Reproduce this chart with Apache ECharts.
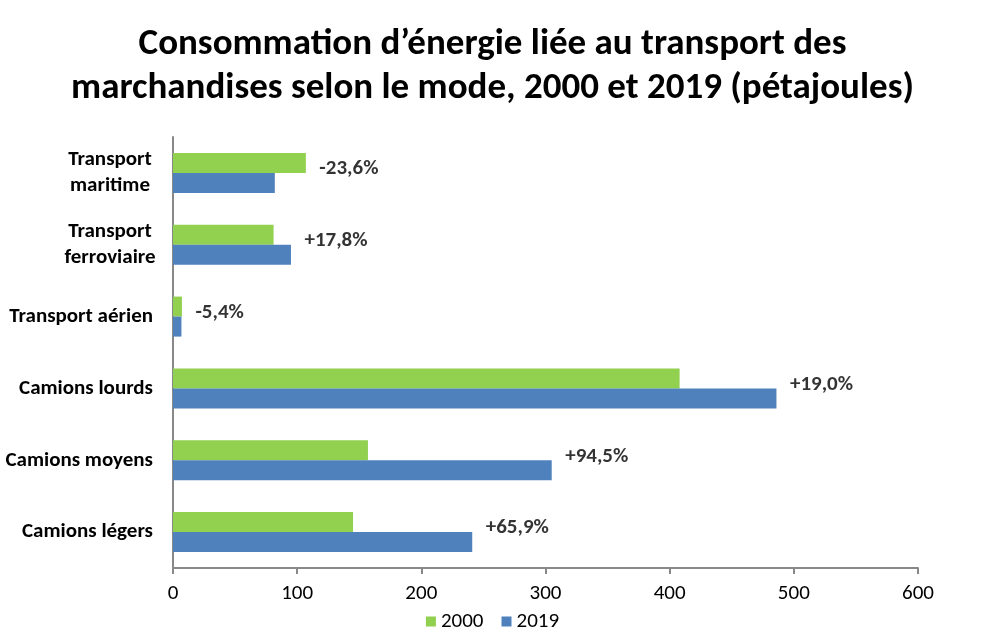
<!DOCTYPE html>
<html>
<head>
<meta charset="utf-8">
<script src="https://cdn.jsdelivr.net/npm/echarts@6/dist/echarts.min.js"></script>
<style>html,body{margin:0;padding:0;background:#fff}#c{width:985px;height:640px}</style>
</head>
<body>
<div id="c"></div>
<script>
const categories = ['Camions légers', 'Camions moyens', 'Camions lourds', 'Transport aérien', 'Transport\nferroviaire', 'Transport\nmaritime'];
const values2000 = [145, 157, 408, 7.2, 81, 107];
const values2019 = [241, 305, 486, 6.8, 95, 82];
const changeLabels = ['+65,9%', '+94,5%', '+19,0%', '-5,4%', '+17,8%', '-23,6%'];
const xTicks = [0, 100, 200, 300, 400, 500, 600];

const FONT = 'Carlito, "Open Sans", sans-serif';
const chart = echarts.init(document.getElementById('c'));
const labelPos = values2000.map((v, i) => Math.max(v, values2019[i]));

chart.setOption({
  animation: false,
  title: {
    text: 'Consommation d\u2019énergie liée au transport des\nmarchandises selon le mode, 2000 et 2019 (pétajoules)',
    left: 'center',
    top: 18,
    textStyle: { fontFamily: FONT, fontWeight: 'bold', fontSize: 37, lineHeight: 44, color: '#000' }
  },
  legend: {
    data: ['2000', '2019'],
    bottom: 3,
    left: 'center',
    itemWidth: 10,
    itemHeight: 10,
    itemGap: 18,
    icon: 'rect',
    textStyle: { fontFamily: FONT, fontSize: 21, color: '#000' }
  },
  grid: { left: 173, right: 67, top: 137, bottom: 72, containLabel: false },
  xAxis: {
    type: 'value',
    min: xTicks[0],
    max: xTicks[xTicks.length - 1],
    interval: 100,
    splitLine: { show: false },
    axisLine: { show: true, lineStyle: { color: '#888', width: 2 } },
    axisTick: { show: true, length: 6, lineStyle: { color: '#888', width: 2 } },
    axisLabel: { fontFamily: FONT, fontSize: 21, color: '#000', margin: 15 }
  },
  yAxis: {
    type: 'category',
    data: categories,
    axisLine: { show: true, lineStyle: { color: '#888', width: 2 } },
    axisTick: { show: false },
    axisLabel: {
      margin: 20,
      formatter: function (v) {
        if (v.indexOf('\n') >= 0) {
          return v.split('\n').map(s => '{c|' + s + '}').join('\n');
        }
        return '{s|' + v + '}';
      },
      rich: {
        c: { fontFamily: FONT, fontWeight: 'bold', fontSize: 21, color: '#000', width: 86, align: 'center', lineHeight: 26 },
        s: { fontFamily: FONT, fontWeight: 'bold', fontSize: 21, color: '#000' }
      }
    }
  },
  series: [
    {
      name: '2000',
      type: 'bar',
      data: values2000,
      barWidth: 20,
      barGap: '0%',
      itemStyle: { color: '#92D050' }
    },
    {
      name: '2019',
      type: 'bar',
      data: values2019,
      barWidth: 20,
      barGap: '0%',
      itemStyle: { color: '#4F81BD' }
    },
    {
      name: 'variation',
      type: 'scatter',
      data: labelPos,
      symbolSize: 1,
      itemStyle: { color: 'rgba(0,0,0,0)' },
      silent: true,
      label: {
        show: true,
        position: 'right',
        distance: 13,
        offset: [0, -4],
        formatter: p => changeLabels[p.dataIndex],
        fontFamily: FONT,
        fontWeight: 'bold',
        fontSize: 21,
        color: '#000'
      }
    }
  ]
});
</script>
</body>
</html>
